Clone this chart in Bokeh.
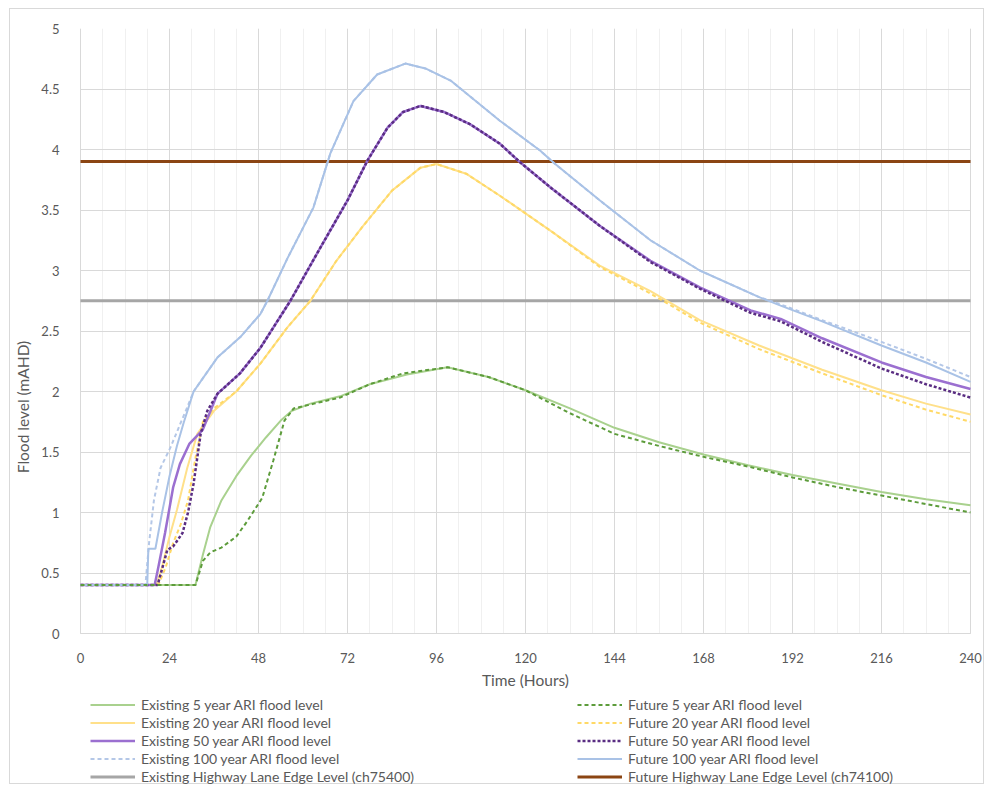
from bokeh.plotting import figure
from bokeh.models import Legend, LegendItem, Range1d, FixedTicker
from bokeh.embed import file_html
from bokeh.resources import INLINE

# ---------------- data ----------------
x_ticks = [0, 24, 48, 72, 96, 120, 144, 168, 192, 216, 240]
y_ticks = [0, 0.5, 1, 1.5, 2, 2.5, 3, 3.5, 4, 4.5, 5]

ex5_t = [0, 31, 33, 35, 38, 42, 46, 50, 54, 57, 62, 70, 78, 88, 99, 110, 120, 132, 144, 156, 168, 180, 192, 204, 216, 228, 240]
ex5_v = [0.4, 0.4, 0.65, 0.88, 1.1, 1.3, 1.47, 1.62, 1.76, 1.84, 1.9, 1.96, 2.06, 2.14, 2.2, 2.12, 2.01, 1.86, 1.7, 1.58, 1.48, 1.39, 1.31, 1.24, 1.17, 1.11, 1.06]

fu5_t = [0, 31, 33, 35, 38, 42, 45, 49, 52, 55, 57.5, 63, 70, 78, 87, 99, 110, 120, 132, 144, 156, 168, 180, 192, 204, 216, 228, 240]
fu5_v = [0.4, 0.4, 0.6, 0.67, 0.71, 0.8, 0.93, 1.12, 1.43, 1.76, 1.86, 1.9, 1.95, 2.06, 2.15, 2.2, 2.12, 2.01, 1.82, 1.65, 1.55, 1.46, 1.38, 1.29, 1.21, 1.14, 1.07, 1.0]

ex20_t = [0, 20.5, 22, 24, 26, 28.8, 31.5, 36, 42, 48.5, 55.8, 62, 69, 76, 84, 91.7, 96, 104, 113, 126.7, 140, 153.7, 167, 183, 200, 216, 228, 240]
ex20_v = [0.4, 0.4, 0.55, 0.8, 1.02, 1.37, 1.65, 1.84, 2.0, 2.23, 2.53, 2.75, 3.08, 3.36, 3.66, 3.85, 3.88, 3.8, 3.62, 3.33, 3.04, 2.83, 2.59, 2.38, 2.18, 2.01, 1.9, 1.81]

fu20_t = [0, 21, 23, 25, 27, 29, 31, 33, 36, 42, 48.5, 55.8, 62, 69, 76, 84, 91.7, 96, 104, 113, 126.7, 140, 153.7, 167, 183, 200, 216, 228, 240]
fu20_v = [0.4, 0.4, 0.55, 0.75, 0.9, 1.1, 1.45, 1.75, 1.86, 2.0, 2.23, 2.53, 2.75, 3.08, 3.36, 3.66, 3.85, 3.88, 3.8, 3.62, 3.33, 3.03, 2.81, 2.57, 2.35, 2.15, 1.97, 1.85, 1.75]

ex50_t = [0, 20, 21, 22.8, 25, 26.8, 29.4, 32.9, 34.8, 36.9, 43, 48.5, 56.6, 64.7, 72, 77.4, 82.8, 87, 91.7, 98, 105, 113, 118.7, 127, 140, 153.7, 167, 180.7, 188.8, 200, 216, 228, 240]
ex50_v = [0.4, 0.4, 0.55, 0.83, 1.21, 1.40, 1.57, 1.68, 1.82, 1.98, 2.15, 2.36, 2.75, 3.19, 3.58, 3.91, 4.18, 4.31, 4.36, 4.31, 4.21, 4.05, 3.89, 3.68, 3.37, 3.08, 2.86, 2.67, 2.60, 2.44, 2.24, 2.12, 2.02]

fu50_t = [0, 20.8, 23.4, 25, 27.5, 29, 30.5, 32.4, 34.2, 36.9, 43, 48.5, 56.6, 64.7, 72, 77.4, 82.8, 87, 91.7, 98, 105, 113, 118.7, 127, 140, 153.7, 167, 180.7, 188.8, 200, 216, 228, 240]
fu50_v = [0.4, 0.4, 0.69, 0.72, 0.83, 1.0, 1.24, 1.65, 1.84, 1.98, 2.15, 2.36, 2.75, 3.19, 3.58, 3.91, 4.18, 4.31, 4.36, 4.31, 4.21, 4.05, 3.89, 3.68, 3.37, 3.07, 2.85, 2.65, 2.58, 2.41, 2.19, 2.06, 1.95]

ex100_t = [0, 17.5, 18.5, 19.8, 21.6, 24.3, 27, 28.8, 30.5, 36.9, 43.1, 48.5, 50.4, 55.8, 62.8, 67.4, 73.6, 80, 87.6, 93, 99.8, 113, 124, 127.6, 140, 153.7, 167, 183, 188.8, 200, 216, 228, 240]
ex100_v = [0.4, 0.4, 0.75, 1.1, 1.37, 1.54, 1.74, 1.87, 2.0, 2.28, 2.45, 2.64, 2.75, 3.1, 3.52, 3.97, 4.40, 4.62, 4.71, 4.67, 4.57, 4.24, 3.99, 3.89, 3.58, 3.25, 3.0, 2.78, 2.72, 2.59, 2.41, 2.27, 2.12]

fu100_t = [0, 18, 18.3, 20.2, 22, 24, 26, 27.8, 30.5, 36.9, 43.1, 48.5, 50.4, 55.8, 62.8, 67.4, 73.6, 80, 87.6, 93, 99.8, 113, 124, 127.6, 140, 153.7, 167, 183, 188.8, 200, 216, 228, 240]
fu100_v = [0.4, 0.4, 0.7, 0.7, 1.0, 1.3, 1.55, 1.74, 2.0, 2.28, 2.45, 2.64, 2.75, 3.1, 3.52, 3.97, 4.40, 4.62, 4.71, 4.67, 4.57, 4.24, 3.99, 3.89, 3.58, 3.25, 3.0, 2.78, 2.71, 2.58, 2.38, 2.24, 2.08]

highway_t = [0, 240]
ex_highway_v = [2.75, 2.75]
fu_highway_v = [3.9, 3.9]

labels_left = ["Existing 5 year ARI flood level", "Existing 20 year ARI flood level",
               "Existing 50 year ARI flood level", "Existing 100 year ARI flood level",
               "Existing Highway Lane Edge Level (ch75400)"]
labels_right = ["Future 5 year ARI flood level", "Future 20 year ARI flood level",
                "Future 50 year ARI flood level", "Future 100 year ARI flood level",
                "Future Highway Lane Edge Level (ch74100)"]

# ---------------- layout geometry (pixels) ----------------
FONT = "Lato"
TXT = "#595959"
W, H = 975, 776
TOP, LEFT, RIGHT = 19, 60, 1
PLOT_W, PLOT_H = 890, 605            # pixels spanned by x = 0..240 and y = 0..5
PAD_L, PAD_R = 10, 14                 # frame padding (px) left/right of the data area
hpp = 240.0 / PLOT_W
frame_h = H - TOP
y_start = -5.0 * (frame_h - PLOT_H) / PLOT_H   # room under y=0 for axis titles + legend

p = figure(width=W, height=H, output_backend="svg", toolbar_location=None,
           x_range=Range1d(-PAD_L * hpp, 240 + PAD_R * hpp), y_range=Range1d(y_start, 5),
           min_border_left=LEFT, min_border_right=RIGHT, min_border_top=TOP, min_border_bottom=0)
p.styles = {"border": "1px solid #d9d9d9", "margin-left": "9px", "margin-top": "8px"}
p.outline_line_color = None
p.background_fill_color = "white"
p.border_fill_color = "white"

p.xaxis.ticker = FixedTicker(ticks=x_ticks, minor_ticks=list(range(0, 241, 6)))
p.yaxis.ticker = FixedTicker(ticks=y_ticks)
p.xaxis.fixed_location = 0
p.xaxis.bounds = (0, 240)
p.yaxis.bounds = (0, 5)
p.xgrid.cross_bounds = (0, 5)
p.ygrid.cross_bounds = (0, 240)
p.xgrid.grid_line_color = "#d9d9d9"
p.ygrid.grid_line_color = "#d9d9d9"
p.xgrid.minor_grid_line_color = "#f0f0f0"

for ax in (p.xaxis, p.yaxis):
    ax.major_tick_line_color = None
    ax.minor_tick_line_color = None
    ax.major_label_text_font = FONT
    ax.major_label_text_font_size = "13px"
    ax.major_label_text_color = TXT
    ax.axis_label_text_font = FONT
    ax.axis_label_text_font_size = "15.5px"
    ax.axis_label_text_color = TXT
    ax.axis_label_text_font_style = "normal"
p.xaxis.axis_line_color = "#d9d9d9"
p.yaxis.axis_line_color = None
p.xaxis.axis_label = "Time (Hours)"
p.yaxis.axis_label = "Flood level (mAHD)"
p.xaxis.major_label_standoff = 13
p.yaxis.major_label_standoff = 5
p.xaxis.axis_label_standoff = 5
p.yaxis.axis_label_standoff = 6

# ---------------- lines ----------------
r_ex_hw = p.line(highway_t, ex_highway_v, line_color="#a6a6a6", line_width=3)
r_fu_hw = p.line(highway_t, fu_highway_v, line_color="#8b4513", line_width=3)

r_ex5 = p.line(ex5_t, ex5_v, line_color="#a9d18e", line_width=2)
r_ex20 = p.line(ex20_t, ex20_v, line_color="#ffe08a", line_width=2)
r_fu20 = p.line(fu20_t, fu20_v, line_color="#ffd966", line_width=2, line_dash="4 3")
r_ex50 = p.line(ex50_t, ex50_v, line_color="#9b6fd0", line_width=2.5)
r_fu50 = p.line(fu50_t, fu50_v, line_color="#5a2d82", line_width=2.5, line_dash="3 2")
r_ex100 = p.line(ex100_t, ex100_v, line_color="#b4c7e7", line_width=2, line_dash="4 3")
r_fu100 = p.line(fu100_t, fu100_v, line_color="#a9c2e6", line_width=2)
r_fu5 = p.line(fu5_t, fu5_v, line_color="#5d9c3b", line_width=2, line_dash="4 3")

left_r = [r_ex5, r_ex20, r_ex50, r_ex100, r_ex_hw]
right_r = [r_fu5, r_fu20, r_fu50, r_fu100, r_fu_hw]

for labels, rends, loc in ((labels_left, left_r, (20, 0)), (labels_right, right_r, (507, 0))):
    lg = Legend(items=[LegendItem(label=l, renderers=[r]) for l, r in zip(labels, rends)],
                location=loc, orientation="vertical",
                background_fill_alpha=0, border_line_color=None,
                padding=0, margin=0, spacing=1, glyph_width=45, glyph_height=13,
                label_height=13, label_standoff=6,
                label_text_font=FONT, label_text_font_size="14px", label_text_color=TXT)
    p.add_layout(lg, "center")

open("out.html", "w").write(file_html(p, INLINE))
